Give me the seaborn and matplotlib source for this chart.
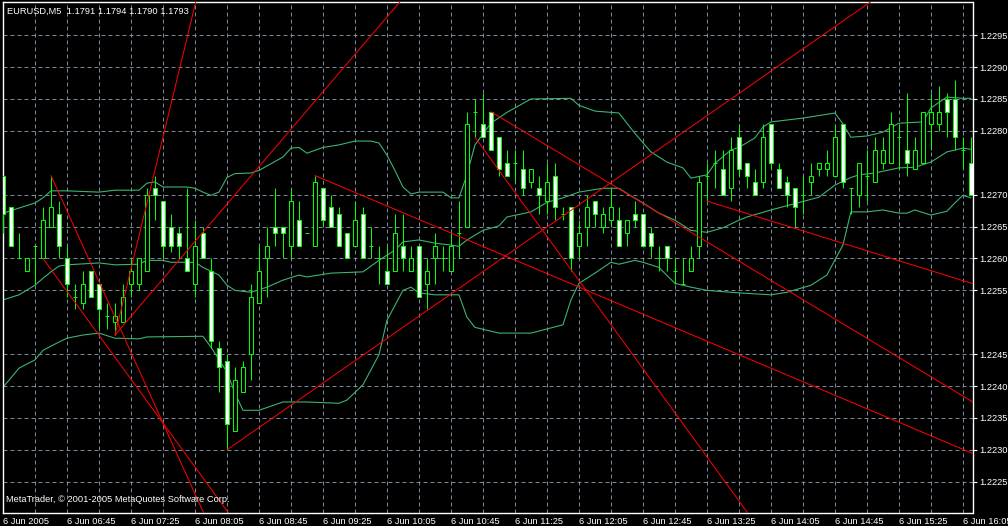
import numpy as np
import pandas as pd
import seaborn as sns
import matplotlib.pyplot as plt

# EURUSD M5, 6 Jun 2005 06:05 .. 16:10 (one value per bar)
opens = [1.2273, 1.2268, 1.2260, 1.2258, 1.2262, 1.2260, 1.2265, 1.2267, 1.2260, 1.2254,
         1.2253, 1.2258, 1.2256, 1.2251, 1.2250, 1.2250, 1.2256, 1.2256, 1.2258, 1.2271,
         1.2269, 1.2265, 1.2264, 1.2260, 1.2256, 1.2264, 1.2258, 1.2246, 1.2244, 1.2233,
         1.2239, 1.2245, 1.2253, 1.2260, 1.2265, 1.2265, 1.2262, 1.2266, 1.2264, 1.2262,
         1.2271, 1.2268, 1.2267, 1.2264, 1.2262, 1.2267, 1.2262, 1.2260, 1.2258, 1.2258,
         1.2262, 1.2258, 1.2262, 1.2256, 1.2260, 1.2260, 1.2258, 1.2264, 1.2265, 1.2283,
         1.2281, 1.2283, 1.2279, 1.2275, 1.2275, 1.2274, 1.2272, 1.2271, 1.2269, 1.2273,
         1.2267, 1.2268, 1.2262, 1.2265, 1.2269, 1.2265, 1.2266, 1.2266, 1.2264, 1.2267,
         1.2267, 1.2264, 1.2260, 1.2262, 1.2258, 1.2256, 1.2258, 1.2262, 1.2273, 1.2275,
         1.2274, 1.2271, 1.2279, 1.2275, 1.2272, 1.2272, 1.2281, 1.2274, 1.2272, 1.2271,
         1.2270, 1.2272, 1.2274, 1.2274, 1.2273, 1.2281, 1.2271, 1.2270, 1.2273, 1.2272,
         1.2275, 1.2275, 1.2279, 1.2277, 1.2274, 1.2275, 1.2281, 1.2281, 1.2285, 1.2285,
         1.2277, 1.2275]
highs = [1.2273, 1.2268, 1.2264, 1.2260, 1.2262, 1.2268, 1.2273, 1.2269, 1.2262, 1.2256,
         1.2258, 1.2258, 1.2256, 1.2253, 1.2253, 1.2256, 1.2260, 1.2260, 1.2271, 1.2273,
         1.2269, 1.2267, 1.2265, 1.2271, 1.2266, 1.2265, 1.2260, 1.2247, 1.2245, 1.2243,
         1.2244, 1.2256, 1.2262, 1.2265, 1.2271, 1.2265, 1.2271, 1.2269, 1.2264, 1.2273,
         1.2271, 1.2270, 1.2268, 1.2264, 1.2269, 1.2268, 1.2265, 1.2262, 1.2262, 1.2267,
         1.2267, 1.2262, 1.2262, 1.2260, 1.2264, 1.2262, 1.2264, 1.2269, 1.2283, 1.2285,
         1.2286, 1.2283, 1.2279, 1.2277, 1.2277, 1.2277, 1.2274, 1.2273, 1.2275, 1.2275,
         1.2268, 1.2268, 1.2266, 1.2270, 1.2269, 1.2268, 1.2271, 1.2268, 1.2266, 1.2269,
         1.2267, 1.2265, 1.2262, 1.2262, 1.2260, 1.2260, 1.2262, 1.2273, 1.2275, 1.2277,
         1.2277, 1.2279, 1.2281, 1.2275, 1.2274, 1.2281, 1.2281, 1.2275, 1.2273, 1.2271,
         1.2273, 1.2275, 1.2275, 1.2277, 1.2281, 1.2281, 1.2271, 1.2275, 1.2277, 1.2279,
         1.2279, 1.2283, 1.2281, 1.2286, 1.2279, 1.2283, 1.2286, 1.2287, 1.2286, 1.2288,
         1.2279, 1.2279]
lows = [1.2264, 1.2262, 1.2260, 1.2258, 1.2256, 1.2260, 1.2265, 1.2260, 1.2254, 1.2252,
        1.2252, 1.2254, 1.2249, 1.2249, 1.2248, 1.2250, 1.2254, 1.2255, 1.2258, 1.2266,
        1.2260, 1.2261, 1.2260, 1.2258, 1.2254, 1.2260, 1.2246, 1.2239, 1.2230, 1.2233,
        1.2239, 1.2241, 1.2253, 1.2254, 1.2262, 1.2260, 1.2260, 1.2262, 1.2264, 1.2262,
        1.2265, 1.2265, 1.2262, 1.2260, 1.2262, 1.2260, 1.2260, 1.2256, 1.2256, 1.2258,
        1.2258, 1.2258, 1.2254, 1.2252, 1.2256, 1.2258, 1.2258, 1.2260, 1.2265, 1.2279,
        1.2279, 1.2277, 1.2273, 1.2273, 1.2272, 1.2270, 1.2271, 1.2267, 1.2267, 1.2266,
        1.2266, 1.2258, 1.2260, 1.2262, 1.2265, 1.2264, 1.2265, 1.2262, 1.2262, 1.2265,
        1.2262, 1.2260, 1.2258, 1.2258, 1.2256, 1.2256, 1.2258, 1.2260, 1.2269, 1.2271,
        1.2270, 1.2269, 1.2273, 1.2271, 1.2270, 1.2271, 1.2274, 1.2271, 1.2268, 1.2265,
        1.2267, 1.2270, 1.2273, 1.2273, 1.2273, 1.2271, 1.2267, 1.2268, 1.2269, 1.2272,
        1.2274, 1.2275, 1.2274, 1.2273, 1.2274, 1.2275, 1.2277, 1.2280, 1.2279, 1.2277,
        1.2274, 1.2270]
closes = [1.2267, 1.2262, 1.2260, 1.2260, 1.2262, 1.2266, 1.2268, 1.2262, 1.2256, 1.2254,
          1.2256, 1.2254, 1.2252, 1.2251, 1.2251, 1.2254, 1.2258, 1.2260, 1.2270, 1.2270,
          1.2262, 1.2262, 1.2262, 1.2258, 1.2262, 1.2260, 1.2247, 1.2243, 1.2234, 1.2241,
          1.2243, 1.2254, 1.2258, 1.2262, 1.2264, 1.2264, 1.2269, 1.2262, 1.2264, 1.2272,
          1.2266, 1.2265, 1.2262, 1.2260, 1.2266, 1.2260, 1.2262, 1.2260, 1.2256, 1.2264,
          1.2260, 1.2260, 1.2254, 1.2258, 1.2262, 1.2260, 1.2262, 1.2264, 1.2281, 1.2283,
          1.2279, 1.2277, 1.2274, 1.2273, 1.2275, 1.2271, 1.2274, 1.2270, 1.2272, 1.2268,
          1.2267, 1.2260, 1.2264, 1.2268, 1.2267, 1.2267, 1.2268, 1.2262, 1.2266, 1.2266,
          1.2262, 1.2262, 1.2260, 1.2260, 1.2258, 1.2256, 1.2260, 1.2272, 1.2273, 1.2275,
          1.2270, 1.2277, 1.2274, 1.2273, 1.2270, 1.2279, 1.2275, 1.2271, 1.2270, 1.2268,
          1.2270, 1.2273, 1.2275, 1.2275, 1.2279, 1.2272, 1.2271, 1.2275, 1.2273, 1.2277,
          1.2277, 1.2281, 1.2279, 1.2275, 1.2277, 1.2283, 1.2283, 1.2283, 1.2283, 1.2279,
          1.2277, 1.2270]

# Bollinger bands (bar position, price)
upper_x = [0, 2, 4, 5, 6, 8, 12, 14, 17, 18, 19, 20, 23, 24, 25, 26, 27, 28, 29, 31,
           32, 35, 36, 37, 38, 40, 42, 44, 46, 47, 48, 49, 50, 51, 52, 55, 56, 57, 58, 59,
           61, 63, 65, 66, 71, 72, 74, 77, 79, 81, 83, 85, 86, 88, 89, 91, 92, 94, 95, 96,
           100, 104, 105, 106, 108, 110, 112, 115, 116, 118, 120, 121]
upper_y = [1.22671, 1.22679, 1.22687, 1.22695, 1.22706, 1.22706, 1.22704, 1.22707, 1.22707, 1.22718,
           1.22720, 1.22712, 1.22712, 1.22710, 1.22704, 1.22699, 1.22704, 1.22727, 1.22733, 1.22734,
           1.22738, 1.22759, 1.22773, 1.22774, 1.22765, 1.22774, 1.22778, 1.22784, 1.22784, 1.22781,
           1.22762, 1.22738, 1.22712, 1.22701, 1.22704, 1.22704, 1.22695, 1.22695, 1.22731, 1.22778,
           1.22812, 1.22829, 1.22843, 1.22850, 1.22851, 1.22840, 1.22831, 1.22828, 1.22796, 1.22767,
           1.22751, 1.22742, 1.22726, 1.22731, 1.22749, 1.22770, 1.22774, 1.22789, 1.22806, 1.22814,
           1.22820, 1.22828, 1.22811, 1.22790, 1.22792, 1.22798, 1.22812, 1.22814, 1.22836, 1.22853,
           1.22851, 1.22851]
middle_x = [0, 2, 4, 5, 6, 7, 8, 12, 14, 17, 18, 20, 21, 24, 25, 27, 28, 29, 31, 33,
            35, 37, 38, 41, 45, 47, 49, 50, 52, 54, 56, 57, 58, 60, 62, 63, 66, 68, 70, 72,
            75, 77, 78, 80, 82, 84, 86, 88, 90, 92, 93, 96, 99, 102, 104, 106, 107, 109, 112, 114,
            116, 118, 120, 121]
middle_y = [1.22535, 1.22543, 1.22558, 1.22569, 1.22579, 1.22588, 1.22590, 1.22593, 1.22590, 1.22591,
            1.22597, 1.22597, 1.22594, 1.22594, 1.22586, 1.22574, 1.22558, 1.22550, 1.22547, 1.22555,
            1.22566, 1.22574, 1.22571, 1.22577, 1.22579, 1.22597, 1.22613, 1.22626, 1.22629, 1.22624,
            1.22621, 1.22619, 1.22629, 1.22644, 1.22651, 1.22665, 1.22673, 1.22688, 1.22695, 1.22704,
            1.22710, 1.22710, 1.22702, 1.22687, 1.22671, 1.22660, 1.22644, 1.22641, 1.22648, 1.22660,
            1.22665, 1.22676, 1.22686, 1.22696, 1.22715, 1.22727, 1.22731, 1.22734, 1.22742, 1.22743,
            1.22751, 1.22767, 1.22773, 1.22771]
lower_x = [0, 2, 4, 5, 7, 8, 10, 12, 14, 17, 18, 25, 26, 28, 29, 30, 32, 35, 38, 42,
           43, 45, 47, 48, 50, 51, 52, 54, 57, 58, 59, 62, 66, 70, 71, 72, 74, 76, 77, 79,
           80, 82, 84, 86, 88, 92, 96, 98, 101, 103, 105, 106, 108, 110, 112, 113, 114, 116, 118, 119,
           120, 121]
lower_y = [1.22398, 1.22428, 1.22441, 1.22456, 1.22469, 1.22475, 1.22480, 1.22483, 1.22475, 1.22474,
           1.22477, 1.22478, 1.22461, 1.22422, 1.22389, 1.22362, 1.22362, 1.22375, 1.22375, 1.22373,
           1.22378, 1.22402, 1.22449, 1.22503, 1.22550, 1.22555, 1.22546, 1.22543, 1.22543, 1.22508,
           1.22492, 1.22483, 1.22483, 1.22496, 1.22535, 1.22561, 1.22577, 1.22594, 1.22591, 1.22597,
           1.22594, 1.22586, 1.22561, 1.22555, 1.22550, 1.22546, 1.22543, 1.22547, 1.22558, 1.22574,
           1.22621, 1.22673, 1.22673, 1.22676, 1.22671, 1.22671, 1.22676, 1.22668, 1.22674, 1.22687,
           1.22699, 1.22695]

# trend lines (rays): first anchor bar/price, second anchor bar/price
line_x1 = [6, 5, 14, 14, 28, 39, 61, 59, 88]
line_p1 = [1.2273, 1.2260, 1.2248, 1.2248, 1.2230, 1.2273, 1.2283, 1.2279, 1.2269]
line_x2 = [20, 20, 24.1, 42.1, 98, 121.1, 121.1, 93.1, 121.1]
line_p2 = [1.22342, 1.22342, 1.23002, 1.22892, 1.22911, 1.22295, 1.22376, 1.22201, 1.22561]

time_labels = ['6 Jun 2005', '6 Jun 06:45', '6 Jun 07:25', '6 Jun 08:05', '6 Jun 08:45',
               '6 Jun 09:25', '6 Jun 10:05', '6 Jun 10:45', '6 Jun 11:25', '6 Jun 12:05',
               '6 Jun 12:45', '6 Jun 13:25', '6 Jun 14:05', '6 Jun 14:45', '6 Jun 15:25',
               '6 Jun 16:05']
price_ticks = [1.2225, 1.2230, 1.2235, 1.2240, 1.2245, 1.2255, 1.2260, 1.2265,
               1.2270, 1.2280, 1.2285, 1.2290, 1.2295]

LIME = '#00ff00'
BAND = '#3cb371'
GRID = '#778899'

sns.set_style("dark", {"axes.facecolor": "black", "figure.facecolor": "black",
                       "axes.edgecolor": "white", "axes.grid": False})
plt.rcParams['font.family'] = ['Liberation Sans', 'DejaVu Sans']
FS = 6.7

fig = plt.figure(figsize=(10.08, 5.26), dpi=100)
ax = fig.add_axes([2.5 / 1008, 13 / 526, 970 / 1008, 511 / 526])
ax.set_facecolor('black')

# grid
for p in price_ticks:
    ax.axhline(p, color=GRID, lw=0.72, ls=(0, (4, 3)), zorder=0)
for b in range(4, 121, 4):
    ax.axvline(b, color=GRID, lw=0.72, ls=(0, (4, 3)), zorder=0)

# bollinger bands
bands = pd.concat([
    pd.DataFrame({'bar': upper_x, 'price': upper_y, 'band': 'upper'}),
    pd.DataFrame({'bar': middle_x, 'price': middle_y, 'band': 'middle'}),
    pd.DataFrame({'bar': lower_x, 'price': lower_y, 'band': 'lower'}),
])
sns.lineplot(data=bands, x='bar', y='price', units='band', estimator=None,
             color=BAND, lw=0.8, ax=ax, zorder=1, legend=False)

# candles
x = np.arange(len(opens))
o = np.array(opens)
h = np.array(highs)
l = np.array(lows)
c = np.array(closes)
bull = c > o
bear = c < o
doji = c == o
ax.vlines(x, l, h, color=LIME, lw=0.72, zorder=3)
ax.bar(x[bear], (o - c)[bear], bottom=c[bear], width=0.58, color='white',
       edgecolor=LIME, lw=0.72, zorder=4)
ax.bar(x[bull], (c - o)[bull], bottom=o[bull], width=0.58, color='black',
       edgecolor=LIME, lw=0.72, zorder=4)
ax.hlines(o[doji], x[doji] - 0.3, x[doji] + 0.3, color=LIME, lw=0.72, zorder=4)

# trend lines as rays to the right
for x1, p1, x2, p2 in zip(line_x1, line_p1, line_x2, line_p2):
    k = (p2 - p1) / (x2 - x1)
    xe = 130
    ax.plot([x1, xe], [p1, p1 + k * (xe - x1)], color='red', lw=0.72, zorder=5)

ax.set_xlim(-0.06, 121.2)
ax.set_ylim(1.22201, 1.23002)

ax.yaxis.tick_right()
ax.set_yticks(price_ticks)
ax.set_yticklabels([f'{p:.4f}' for p in price_ticks])
ax.set_xticks(range(0, 121, 8))
ax.set_xticklabels(time_labels, ha='left')
ax.tick_params(axis='both', colors='white', labelcolor='white', labelsize=FS,
               length=2.9, width=0.8, direction='out')
ax.tick_params(axis='x', pad=0.3)
ax.tick_params(axis='y', pad=1.6)
ax.set_xlabel('')
ax.set_ylabel('')
for s in ax.spines.values():
    s.set_color('white')
    s.set_linewidth(1)

fig.text(7 / 1008, 1 - 11 / 526, 'EURUSD,M5  1.1791 1.1794 1.1790 1.1793',
         color='white', fontsize=FS, va='center', ha='left')
fig.text(6 / 1008, 1 - 500 / 526, 'MetaTrader, © 2001-2005 MetaQuotes Software Corp.',
         color='white', fontsize=FS, va='center', ha='left')

fig.savefig('out.png', dpi=100, facecolor='black')
